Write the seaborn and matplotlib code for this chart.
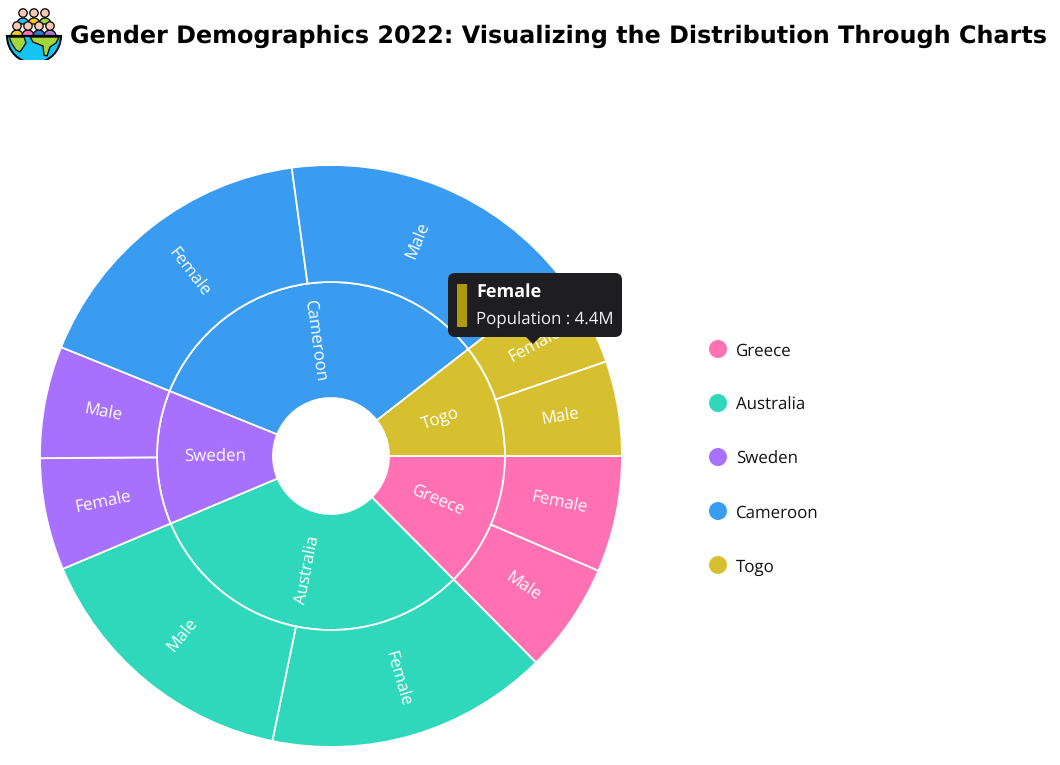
# LIBS
import numpy as np
import matplotlib
matplotlib.use('Agg')
import matplotlib.pyplot as plt
from matplotlib.patches import Circle, Wedge, Rectangle, Polygon, FancyBboxPatch
import seaborn as sns

# Data (population in millions)
countries = ['Greece', 'Australia', 'Sweden', 'Cameroon', 'Togo']
female = [5.4, 13.1, 5.2, 14.0, 4.4]
male = [5.1, 12.9, 5.2, 13.9, 4.4]
colors = ['#FF71B2', '#30D8BB', '#A770FF', '#399CF0', '#D6C02F']
title = 'Gender Demographics 2022: Visualizing the Distribution Through Charts'
tip_name = 'Female'
tip_text = 'Population : 4.4M'

sns.set_theme(style='white')
plt.rcParams['font.family'] = ['Open Sans', 'DejaVu Sans']
plt.rcParams['text.hinting'] = 'no_hinting'

W, H = 1060, 765
fig = plt.figure(figsize=(W / 100, H / 100), dpi=100)
ax = fig.add_axes([0, 0, 1, 1])


# Pixel row of the reference -> axes y
def py(y):
    return H - y


# Text along the radius of a wedge, flipped on the left so it stays readable
def ring_labels(wedges, labels, radius, center):
    for w, label in zip(wedges, labels):
        phi = np.deg2rad((w.theta1 + w.theta2) / 2)
        rot = np.rad2deg(phi) % 360
        if np.cos(phi) < 0:
            rot -= 180
        ax.text(center[0] + radius * np.cos(phi), center[1] + radius * np.sin(phi),
                label, color='white', fontsize=12.2, rotation=rot,
                rotation_mode='anchor', ha='center', va='center', zorder=4)


# Sunburst, two rings of pies going clockwise from 3 o'clock
center = (331, py(456))
r_out, r_mid, r_in = 291, 174, 58
totals = [f + m for f, m in zip(female, male)]
outer_vals = [v for pair in zip(female, male) for v in pair]
outer_cols = [c for c in colors for _ in range(2)]
outer_labs = ['Female', 'Male'] * len(countries)

inner, _ = ax.pie(totals, colors=colors, center=center, radius=r_mid, startangle=0,
                  counterclock=False, frame=True,
                  wedgeprops=dict(width=r_mid - r_in, edgecolor='white', linewidth=1.3))
outer, _ = ax.pie(outer_vals, colors=outer_cols, center=center, radius=r_out, startangle=0,
                  counterclock=False, frame=True,
                  wedgeprops=dict(width=r_out - r_mid, edgecolor='white', linewidth=1.3))
ring_labels(inner, countries, (r_mid + r_in) / 2, center)
ring_labels(outer, outer_labs, (r_out + r_mid) / 2, center)

ax.set_xlim(0, W)
ax.set_ylim(0, H)
ax.set_aspect('equal')
ax.axis('off')

# Legend
for i, (name, col) in enumerate(zip(countries, colors)):
    y = py(349 + 54 * i)
    ax.add_patch(Circle((718, y), 9, facecolor=col, edgecolor='none'))
    ax.text(736, y - 2.5, name, fontsize=12.2, color='#111111', va='center', ha='left')

# Tooltip
ax.add_patch(FancyBboxPatch((448, py(337)), 174, 64, boxstyle='round,pad=0,rounding_size=7',
                            facecolor='#1D1D22', edgecolor='none', zorder=5))
ax.add_patch(Polygon([(525, py(336)), (541, py(336)), (533, py(344))], closed=True,
                     facecolor='#1D1D22', edgecolor='none', zorder=5))
ax.add_patch(Rectangle((457, py(327)), 10, 43, facecolor='#AE9A0A', edgecolor='none', zorder=6))
ax.text(476, py(292.5), tip_name, color='white', fontsize=13, fontweight='bold',
        va='center', ha='left', zorder=6)
ax.text(476, py(319.5), tip_text, color='#F2F2F2', fontsize=12.2, va='center', ha='left', zorder=6)

# Title
ax.text(70, py(36), title, fontsize=17.2, fontweight='bold', color='black',
        family='DejaVu Sans', va='center', ha='left')

# Icon: globe bowl
clip = Rectangle((0, py(60)), 70, 30, transform=ax.transData)
globe = Wedge((34, py(36)), 27, 180, 360, facecolor='#14C4F5', edgecolor='black', linewidth=1.4)
ax.add_patch(globe)
globe.set_clip_path(clip)
for pts in ([(9, 37), (24, 37), (26, 43), (20, 52), (16, 50), (12, 44)],
            [(30, 37), (59, 37), (56, 43), (50, 47), (47, 56), (44, 55), (43, 46), (33, 42)]):
    ax.add_patch(Polygon([(x, py(y)) for x, y in pts], closed=True, facecolor='#A4D63C',
                         edgecolor='black', linewidth=0.9))
ax.plot([7, 61], [py(36), py(36)], color='black', lw=1.6, solid_capstyle='round')

# Icon: people
for x, col in zip([23, 34, 45], ['#22C3F0', '#FFC91F', '#A4D63C']):
    ax.add_patch(Wedge((x, py(24)), 6, 0, 180, facecolor=col, edgecolor='black', linewidth=0.9))
    ax.add_patch(Circle((x, py(13)), 4.2, facecolor='#F7C9B4', edgecolor='black', linewidth=0.9))
for x, col in zip([17, 28, 39, 50], ['#FFC91F', '#FF71B2', '#2F79D0', '#A77BD0']):
    ax.add_patch(Wedge((x, py(36)), 6, 0, 180, facecolor=col, edgecolor='black', linewidth=0.9))
    ax.add_patch(Circle((x, py(26)), 4.2, facecolor='#F7C9B4', edgecolor='black', linewidth=0.9))

fig.savefig('out.png', dpi=100)
